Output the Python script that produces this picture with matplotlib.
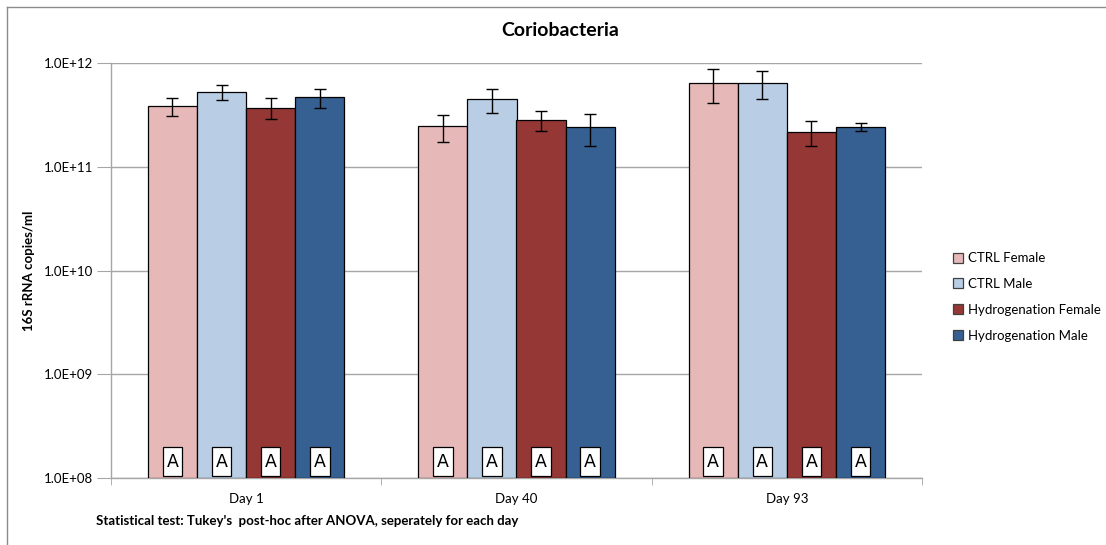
import numpy as np
import matplotlib
matplotlib.use("Agg")
import matplotlib.pyplot as plt
from matplotlib.lines import Line2D
from matplotlib.patches import Rectangle
from matplotlib.ticker import FixedLocator, NullLocator

plt.rcParams["font.family"] = ["Lato", "DejaVu Sans"]

days = ["Day 1", "Day 40", "Day 93"]
groups = ["CTRL Female", "CTRL Male", "Hydrogenation Female", "Hydrogenation Male"]
colors = ["#e6b9b8", "#b9cde5", "#953735", "#366092"]

# mean copies/ml per group (rows) and day (columns)
means = [
    [3.85e11, 2.45e11, 6.45e11],
    [5.30e11, 4.47e11, 6.45e11],
    [3.72e11, 2.84e11, 2.16e11],
    [4.65e11, 2.40e11, 2.43e11],
]
errs = [
    [0.75e11, 0.72e11, 2.35e11],
    [0.90e11, 1.15e11, 2.00e11],
    [0.85e11, 0.63e11, 0.57e11],
    [0.95e11, 0.80e11, 0.22e11],
]
letters = [["A", "A", "A"]] * 4

fig = plt.figure(figsize=(11.06, 5.45), dpi=100)
ax = fig.add_axes([111 / 1106, 1 - 478 / 545, 811 / 1106, 415 / 545])

n = len(groups)
w = 1 / (n + 1.5)
x = np.arange(len(days))
box_w = 0.072
trans = ax.get_xaxis_transform()
for i in range(n):
    xi = x + (i - (n - 1) / 2) * w
    ax.bar(xi, means[i], width=w, bottom=1e8, color=colors[i],
           edgecolor="black", linewidth=0.9, zorder=3)
    ax.errorbar(xi, means[i], yerr=errs[i], fmt="none", ecolor="black",
                elinewidth=1, capsize=4, capthick=1, zorder=4)
    # significance letter boxes at the foot of each bar
    for j, xv in enumerate(xi):
        ax.add_patch(Rectangle((xv - box_w / 2, 0.004), box_w, 0.071,
                               transform=trans, fc="white", ec="black",
                               lw=0.9, zorder=5))
        ax.text(xv, 0.039, letters[i][j], transform=trans,
                ha="center", va="center", fontsize=12.5, zorder=6,
                family=["DejaVu Sans"])

ax.set_yscale("log")
ax.set_ylim(1e8, 1e12)
ax.set_xlim(-0.5, len(days) - 0.5)
ax.yaxis.set_major_locator(FixedLocator([1e8, 1e9, 1e10, 1e11, 1e12]))
ax.yaxis.set_minor_locator(NullLocator())
ax.set_yticklabels(["1.0E+08", "1.0E+09", "1.0E+10", "1.0E+11", "1.0E+12"])
ax.grid(axis="y", color="#a6a6a6", lw=1, zorder=0)

ax.set_xticks(x)
ax.set_xticklabels(days)
ax.set_xticks(np.arange(len(days) + 1) - 0.5, minor=True)
ax.tick_params(axis="x", which="major", length=0, pad=11, labelsize=9.5)
ax.tick_params(axis="x", which="minor", length=5, color="#a6a6a6", direction="out")
ax.tick_params(axis="y", length=10, color="#a6a6a6", labelsize=9.5, pad=3)

for side in ("top", "right"):
    ax.spines[side].set_visible(False)
for side in ("left", "bottom"):
    ax.spines[side].set_color("#a6a6a6")
    ax.spines[side].set_linewidth(1)

ax.set_ylabel("16S rRNA copies/ml", fontsize=9.5, fontweight="bold", labelpad=6)

fig.text(560 / 1106, 1 - 31 / 545, "Coriobacteria", ha="center", va="center",
         fontsize=14, fontweight="bold")
fig.text(96 / 1106, 1 - 521 / 545,
         "Statistical test: Tukey's  post-hoc after ANOVA, seperately for each day",
         ha="left", va="center", fontsize=9.5, fontweight="bold")

handles = [Line2D([], [], marker="s", ls="none", markersize=7.5,
                  markerfacecolor=c, markeredgecolor="#404040", markeredgewidth=0.9)
           for c in colors]
fig.legend(handles, groups, loc="center left", bbox_to_anchor=(938 / 1106, 1 - 297 / 545),
           frameon=False, fontsize=9.5, handletextpad=0.2, labelspacing=1.05,
           handlelength=1.2)

# chart frame
fig.add_artist(Line2D([7 / 1106, 7 / 1106], [0, 1 - 7 / 545], color="#8c8c8c", lw=1,
                      transform=fig.transFigure))
fig.add_artist(Line2D([7 / 1106, 1], [1 - 7 / 545, 1 - 7 / 545], color="#8c8c8c", lw=1,
                      transform=fig.transFigure))

fig.savefig("out.png", dpi=100)
